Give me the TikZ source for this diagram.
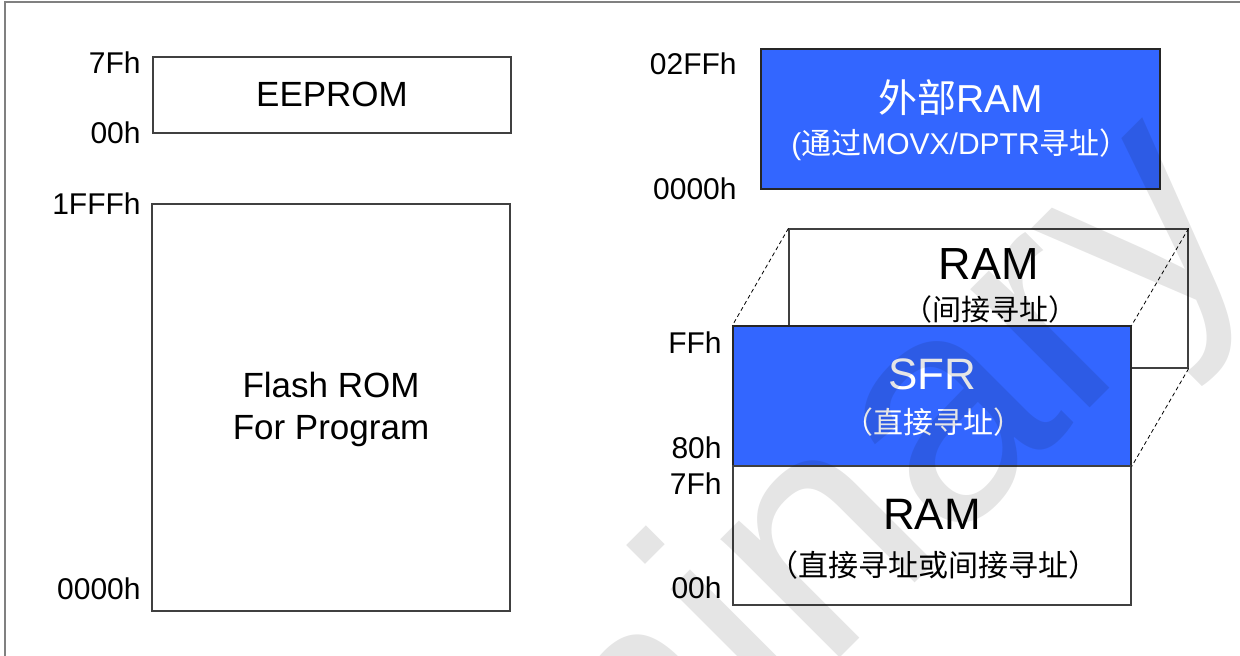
\documentclass[tikz,border=0pt]{standalone}
\usepackage{fontspec}
\setmainfont{Liberation Sans}
\newfontfamily\cjk{Noto Sans CJK SC}
\definecolor{memblue}{HTML}{3366FF}
\definecolor{framegray}{HTML}{808080}
\newcommand{\setfs}[1]{\fontsize{#1}{#1}\selectfont}

\begin{document}
\begin{tikzpicture}[x=0.5pt,y=-0.5pt]
\tikzstyle{membox} = [draw=black!75, line width=0.6pt, inner sep=0pt, minimum width=179pt]
\tikzstyle{bluebox} = [membox, fill=memblue, draw=black!85]
\tikzstyle{addr} = [anchor=east, inner sep=0pt, font=\setfs{15}]
\tikzstyle{txt} = [anchor=base, inner sep=0pt]
\useasboundingbox (0,0) rectangle (1240,656);
\clip (0,0) rectangle (1240,656);

% frame
\draw [framegray, line width=1pt] (5,700) -- (5,2) -- (1300,2);

% program side
\node [membox, minimum height=38pt] (eeprom) at (332,95) {};
\node [membox, minimum height=203.5pt] (flash) at (331,407.5) {};
\node [txt, font=\setfs{17.5}] (eepromt) at (332,107) {EEPROM};
\node [txt, font=\setfs{17.5}] (flasht) at (331,398) {Flash ROM};
\node [txt, font=\setfs{17.5}] (flashs) at (331,440) {For Program};

\node [addr] (e7f) at (141,63) {7Fh};
\node [addr] (e00) at (141,133) {00h};
\node [addr] (f1fff) at (141,204) {1FFFh};
\node [addr] (f0000) at (141,589) {0000h};

% data side
\node [bluebox, minimum width=199.5pt, minimum height=70pt] (xram) at (960.5,119) {};
\node [membox, minimum width=199.5pt, minimum height=69.5pt] (ramback) at (988.5,298.5) {};
\node [bluebox, minimum width=199pt, minimum height=70pt] (sfr) at (932,396) {};
\node [membox, minimum width=199pt, minimum height=69.5pt] (ramlow) at (932,535.5) {};

\draw [dashed, dash pattern=on 2pt off 1.5pt, line width=0.4pt] (ramback.north west) -- (sfr.north west);
\draw [dashed, dash pattern=on 2pt off 1.5pt, line width=0.4pt] (ramback.north east) -- (sfr.north east);
\draw [dashed, dash pattern=on 2pt off 1.5pt, line width=0.4pt] (ramback.south east) -- (sfr.south east);

\node [txt, white, font=\setfs{19.5}] (xramt) at (960.5,113) {{\cjk 外部}RAM};
\node [txt, white, font=\setfs{15}] (xrams) at (960.5,155) {({\cjk 通过}MOVX/DPTR{\cjk 寻址）}};
\node [txt, font=\setfs{22.5}] (rambackt) at (988.5,280) {RAM};
\node [txt, font=\setfs{14.5}\cjk] (rambacks) at (990,321) {（间接寻址）};
\node [txt, white, font=\setfs{22}] (sfrt) at (932,390) {SFR};
\node [txt, white, font=\setfs{15}\cjk] (sfrs) at (933,434) {（直接寻址）};
\node [txt, font=\setfs{22}] (ramlowt) at (932,530) {RAM};
\node [txt, font=\setfs{15}\cjk] (ramlows) at (933,576) {（直接寻址或间接寻址）};

\node [addr] (x2ff) at (737,64) {02FFh};
\node [addr] (x0000) at (737,189) {0000h};
\node [addr] (sff) at (722,343) {FFh};
\node [addr] (s80) at (722,448) {80h};
\node [addr] (r7f) at (722,484) {7Fh};
\node [addr] (r00) at (722,588) {00h};

% watermark
\node [anchor=base, rotate=45, inner sep=0pt, opacity=0.1, font=\setfs{159}] (wm) at (700,798) {Preliminary};
\end{tikzpicture}
\end{document}
